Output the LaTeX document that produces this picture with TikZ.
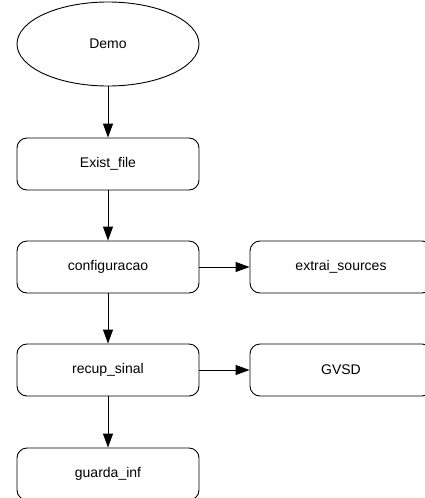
\documentclass[tikz,border=0pt]{standalone}
\usepackage{fontspec}
\setmainfont{Liberation Sans}
\usetikzlibrary{arrows.meta,shapes.geometric}
\begin{document}
\begin{tikzpicture}[x=1pt,y=-1pt,
  box/.style={draw,line width=0.9pt,rounded corners=10pt,minimum width=182pt,minimum height=52pt,inner sep=0pt,font=\fontsize{14}{16}\selectfont},
  oval/.style={draw,line width=0.9pt,ellipse,minimum width=182pt,minimum height=84pt,inner sep=0pt,font=\fontsize{14}{16}\selectfont},
  arr/.style={line width=0.9pt,-{Triangle[length=14pt,width=10pt]}}]
\useasboundingbox (0,0) rectangle (425,498);
\clip (0,0) rectangle (425,498);
\node[oval] (demo) at (108,44) {Demo};
\node[box] (exist) at (108,164) {Exist\_file};
\node[box] (conf) at (108,267) {configuracao};
\node[box] (extr) at (341,267) {extrai\_sources};
\node[box] (recup) at (108,370) {recup\_sinal};
\node[box] (gvsd) at (341,370) {GVSD};
\node[box] (guarda) at (108,474) {guarda\_inf};
\draw[arr] (demo) -- (exist);
\draw[arr] (exist) -- (conf);
\draw[arr] (conf) -- (extr);
\draw[arr] (conf) -- (recup);
\draw[arr] (recup) -- (gvsd);
\draw[arr] (recup) -- (guarda);
\end{tikzpicture}
\end{document}
